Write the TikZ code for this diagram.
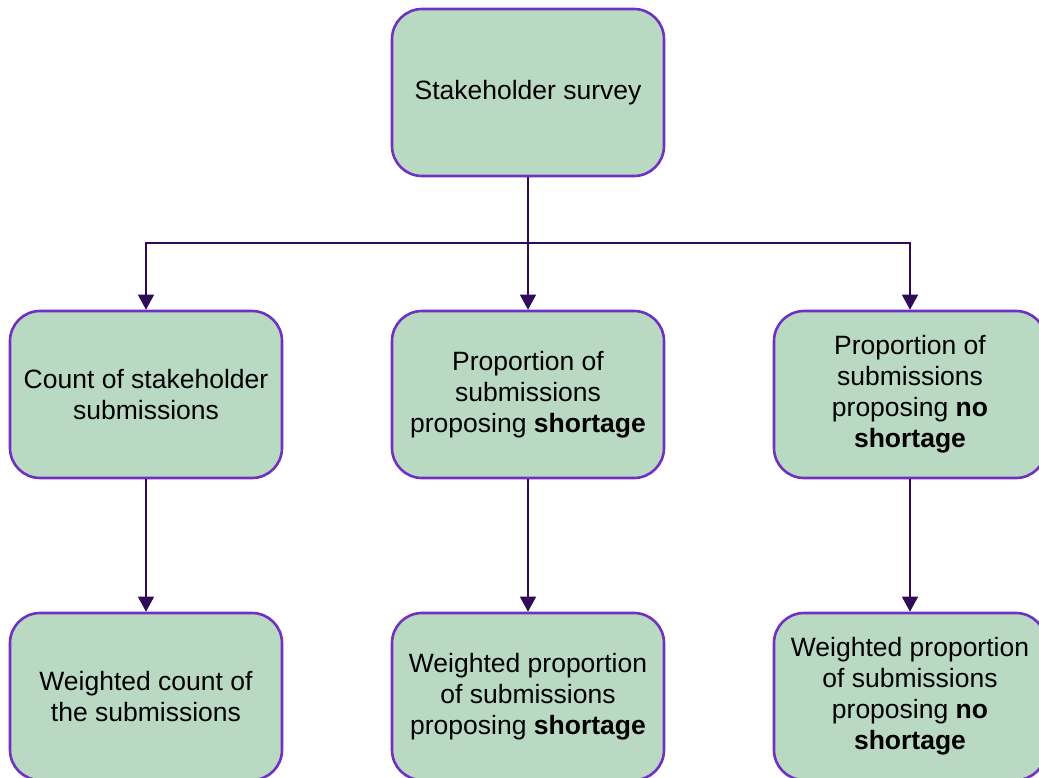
\documentclass[tikz,border=0pt]{standalone}
\usepackage{fontspec}
\setmainfont{Liberation Sans}
\usetikzlibrary{arrows.meta}
\definecolor{boxfill}{RGB}{186,217,195}
\definecolor{boxline}{RGB}{112,48,192}
\definecolor{linkcol}{RGB}{48,12,88}
\tikzset{
  stagebox/.style={draw=boxline, fill=boxfill, line width=2.6pt, rounded corners=30pt,
    minimum width=272pt, minimum height=167pt, inner sep=0pt, align=center,
    font=\fontsize{26.5}{31}\selectfont},
  link/.style={draw=linkcol, line width=1.4pt},
  linkarrow/.style={link, -{Triangle[width=16pt,length=15pt]}}
}
\begin{document}
\begin{tikzpicture}[x=1pt,y=-1pt]
\useasboundingbox (0,0) rectangle (1039,778);
\clip (0,0) rectangle (1039,778);
% top of the tree
\node[stagebox] (survey) at (528,92.5) {Stakeholder survey};
% middle row
\node[stagebox] (count) at (146,394.5) {Count of stakeholder\\submissions};
\node[stagebox] (shortage) at (528,394.5) {Proportion of\\submissions\\proposing \textbf{shortage}};
\node[stagebox] (noshortage) at (910,394.5) {Proportion of\\submissions\\proposing \textbf{no}\\\textbf{shortage}};
% bottom row
\node[stagebox] (wcount) at (146,696.5) {Weighted count of\\the submissions};
\node[stagebox] (wshortage) at (528,696.5) {Weighted proportion\\of submissions\\proposing \textbf{shortage}};
\node[stagebox] (wnoshortage) at (910,696.5) {Weighted proportion\\of submissions\\proposing \textbf{no}\\\textbf{shortage}};
% branching connectors
\coordinate (split) at (528,243);
\draw[link] (survey.south) -- (split);
\draw[linkarrow] (split) -| (count.north);
\draw[linkarrow] (split) -- (shortage.north);
\draw[linkarrow] (split) -| (noshortage.north);
% vertical connectors
\draw[linkarrow] (count.south) -- (wcount.north);
\draw[linkarrow] (shortage.south) -- (wshortage.north);
\draw[linkarrow] (noshortage.south) -- (wnoshortage.north);
\end{tikzpicture}
\end{document}
